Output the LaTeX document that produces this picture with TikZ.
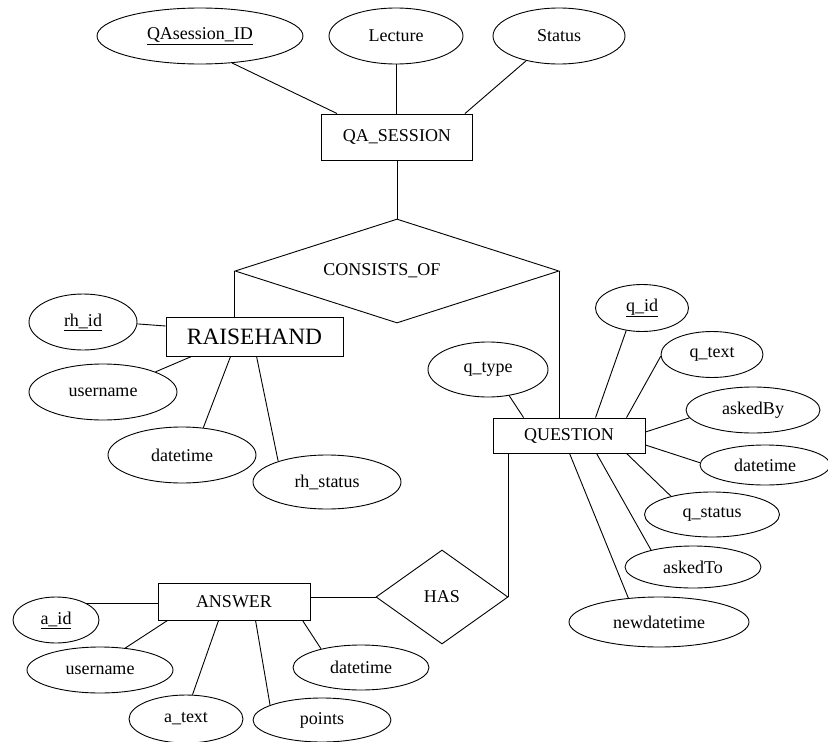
\documentclass[tikz,border=0pt]{standalone}
\usepackage{fontspec}
\setmainfont{Liberation Serif}
\usetikzlibrary{shapes.geometric}
\begin{document}
\begin{tikzpicture}[x=1pt,y=-1pt,
  every node/.style={font=\fontsize{18}{20}\selectfont},
  ent/.style={draw, rectangle, inner sep=0pt, line width=0.9pt},
  attr/.style={draw, ellipse, inner sep=0pt, line width=0.9pt},
  rel/.style={draw, diamond, inner sep=0pt, line width=0.9pt},
  conn/.style={line width=0.9pt}]
\useasboundingbox (0,0) rectangle (828,742);

% QA_SESSION and its attributes
\node[ent, minimum width=151pt, minimum height=46pt] (qas) at (397,137) {QA\_SESSION};
\node[attr, minimum width=206pt, minimum height=56pt] (qsid) at (200,36) {\underline{QAsession\_ID}};
\node[attr, minimum width=134pt, minimum height=56pt] (lect) at (396,36) {Lecture};
\node[attr, minimum width=132pt, minimum height=56pt] (stat) at (559,36) {Status};

% CONSISTS_OF
\node[rel, minimum width=324pt, minimum height=104pt] (cons) at (397,271) {};
\node (constext) at (382,271) {CONSISTS\_OF};

% RAISEHAND
\node[ent, minimum width=177pt, minimum height=39pt, font=\fontsize{23.4}{26}\selectfont] (rh) at (254.5,336.5) {RAISEHAND};
\node[attr, minimum width=108pt, minimum height=56pt] (rhid) at (83,322) {\underline{rh\_id}};
\node[attr, minimum width=148pt, minimum height=56pt] (rhuser) at (103,392) {username};
\node[attr, minimum width=148pt, minimum height=56pt] (rhdt) at (182,455) {datetime};
\node[attr, minimum width=148pt, minimum height=54pt] (rhst) at (327,482) {rh\_status};

% QUESTION
\node[ent, minimum width=152pt, minimum height=35pt] (q) at (569,435.5) {QUESTION};
\node[attr, minimum width=120pt, minimum height=55pt] (qtype) at (488,369.5) {q\_type};
\node[attr, minimum width=93pt, minimum height=47pt] (qid) at (642,308) {\underline{q\_id}};
\node[attr, minimum width=102pt, minimum height=46pt] (qtext) at (712,354.5) {q\_text};
\node[attr, minimum width=134pt, minimum height=46pt] (askby) at (753,410) {askedBy};
\node[attr, minimum width=130pt, minimum height=40pt] (qdt) at (765,465) {datetime};
\node[attr, minimum width=135pt, minimum height=45pt] (qst) at (712,514.5) {q\_status};
\node[attr, minimum width=136pt, minimum height=42pt] (askto) at (693,567) {askedTo};
\node[attr, minimum width=180pt, minimum height=50pt] (newdt) at (659,622) {newdatetime};

% HAS and ANSWER
\node[rel, minimum width=132pt, minimum height=94pt] (has) at (442,597) {HAS};
\node[ent, minimum width=152pt, minimum height=37pt] (ans) at (234,601.5) {ANSWER};
\node[attr, minimum width=86pt, minimum height=46pt] (aid) at (56,620) {\underline{a\_id}};
\node[attr, minimum width=146pt, minimum height=46pt] (auser) at (100,670) {username};
\node[attr, minimum width=114pt, minimum height=48pt] (atext) at (186,719) {a\_text};
\node[attr, minimum width=138pt, minimum height=44pt] (pts) at (322,720) {points};
\node[attr, minimum width=136pt, minimum height=45pt] (adt) at (361,667.5) {datetime};

% connectors
\draw[conn] (qsid.-40) -- ([xshift=16pt]qas.north west);
\draw[conn] (lect.south) -- (lect.south |- qas.north);
\draw[conn] (stat.-143) -- ([xshift=-8pt]qas.north east);
\draw[conn] (qas.south) -- (cons.north);
\draw[conn] (cons.west) -- (cons.west |- rh.north);
\draw[conn] (cons.east) -- (cons.east |- q.north);

\draw[conn] (rhid.-2) -- ([yshift=10.5pt]rh.west);
\draw[conn] (rhuser.21) -- ([xshift=26pt]rh.south west);
\draw[conn] (rhdt.52) -- ([xshift=65pt]rh.south west);
\draw[conn] (rhst.157) -- ([xshift=91pt]rh.south west);

\draw[conn] (qtype.-51.6) -- ([xshift=31pt]q.north west);
\draw[conn] (qid.-125) -- ([xshift=103pt]q.north west);
\draw[conn] (qtext.-178) -- ([xshift=134pt]q.north west);
\draw[conn] (askby.-173) -- ([yshift=3.5pt]q.east);
\draw[conn] (qdt.178) -- ([yshift=-9.5pt]q.east);
\draw[conn] (qst.156.7) -- ([xshift=134pt]q.south west);
\draw[conn] (askto.158.6) -- ([xshift=104pt]q.south west);
\draw[conn] (newdt.142.9) -- ([xshift=77pt]q.south west);

\draw[conn] (has.east) -- (has.east |- q.south);
\draw[conn] (has.west) -- (has.west -| ans.east);

\draw[conn] (aid.29) -- (aid.29 -| ans.west);
\draw[conn] (auser.41) -- ([xshift=10pt]ans.south west);
\draw[conn] (atext.75) -- ([xshift=61pt]ans.south west);
\draw[conn] (pts.164) -- ([xshift=98pt]ans.south west);
\draw[conn] (adt.155) -- ([xshift=145pt]ans.south west);
\end{tikzpicture}
\end{document}
